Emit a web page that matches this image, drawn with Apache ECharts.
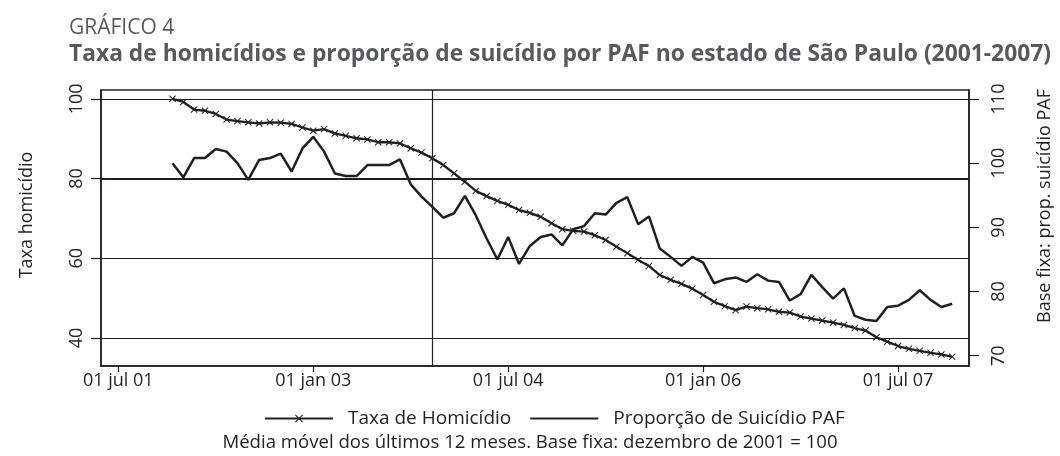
<!DOCTYPE html>
<html>
<head>
    <meta charset="UTF-8">
    <script src="https://cdn.jsdelivr.net/npm/echarts@6/dist/echarts.min.js"></script>
    <style>
        html, body { margin: 0; padding: 0; background: #fff; }
        #container { width: 1060px; height: 456px; }
    </style>
</head>
<body>
<div id="container"></div>
<script type="text/javascript">
    // meses contados a partir de jul/2001 (0 = jul 2001); série começa em dez/2001
    var inicioSerie = 5;
    var marcoDesarmamento = 29; // dez/2003
    var linhaReforcada = 80;

    var xTickValues = [0, 18, 36, 54, 72];
    var xTickLabels = ['01 jul 01', '01 jan 03', '01 jul 04', '01 jan 06', '01 jul 07'];
    var yLeftTicks = [40, 60, 80, 100];
    var yRightTicks = [70, 80, 90, 100, 110];

    // Taxa de homicídio (base dez/2001 = 100), dez/2001 .. dez/2007
    var taxaHomicidio = [
        100.0, 99.2, 97.3, 97.0, 96.2, 94.8, 94.4, 94.1, 93.8, 94.1, 94.0, 93.7,
        92.8, 92.0, 92.4, 91.3, 90.7, 90.1, 89.8, 89.1, 89.1, 88.8, 87.6, 86.5,
        85.1, 83.4, 81.3, 79.2, 76.9, 75.6, 74.4, 73.4, 72.1, 71.4, 70.4, 68.8,
        67.3, 66.9, 66.7, 65.8, 64.6, 62.9, 61.3, 59.6, 58.1, 55.8, 54.6, 53.6,
        52.4, 50.8, 49.1, 48.0, 47.0, 47.9, 47.5, 47.2, 46.6, 46.4, 45.4, 44.9,
        44.4, 43.9, 43.3, 42.5, 41.9, 40.2, 39.1, 38.0, 37.3, 36.8, 36.3, 35.9,
        35.3
    ];

    // Proporção de suicídio por PAF (base dez/2001 = 100), dez/2001 .. dez/2007
    var propSuicidio = [
        100.0, 97.8, 100.8, 100.8, 102.2, 101.8, 100.0, 97.4, 100.5, 100.8, 101.5, 98.7,
        102.3, 104.1, 101.8, 98.4, 98.0, 98.0, 99.7, 99.7, 99.7, 100.6, 96.7, 94.8,
        93.2, 91.5, 92.2, 94.9, 91.9, 88.3, 85.0, 88.5, 84.3, 87.1, 88.5, 88.9,
        87.2, 89.7, 90.2, 92.2, 92.0, 93.8, 94.7, 90.5, 91.7, 86.7, 85.4, 84.0,
        85.4, 84.5, 81.3, 81.9, 82.2, 81.5, 82.7, 81.7, 81.5, 78.6, 79.6, 82.6,
        80.7, 78.9, 80.5, 76.2, 75.6, 75.4, 77.6, 77.8, 78.7, 80.2, 78.7, 77.6,
        78.1
    ];

    function paraPontos(valores) {
        return valores.map(function (v, i) { return [inicioSerie + i, v]; });
    }

    var corTexto = '#231f20';
    var corTitulo = '#58595b';
    var fonte = '"Open Sans", "Noto Sans", sans-serif';
    var cruz = 'path://M0,1L1,0L5,4L9,0L10,1L6,5L10,9L9,10L5,6L1,10L0,9L4,5Z';

    var dom = document.getElementById('container');
    var myChart = echarts.init(dom, null, { renderer: 'canvas' });

    var option = {
        animation: false,
        backgroundColor: '#fff',
        textStyle: { fontFamily: fonte, color: corTexto },
        title: [
            {
                text: 'GRÁFICO 4',
                left: 64, top: 13,
                textStyle: { fontFamily: fonte, fontSize: 21, fontWeight: 'normal', color: corTitulo }
            },
            {
                text: 'Taxa de homicídios e proporção de suicídio por PAF no estado de São Paulo (2001-2007)',
                left: 64, top: 38,
                textStyle: { fontFamily: fonte, fontSize: 22.8, fontWeight: 'bold', color: corTitulo }
            },
            {
                text: 'Média móvel dos últimos 12 meses. Base fixa: dezembro de 2001 = 100',
                left: 'center', top: 428,
                textStyle: { fontFamily: fonte, fontSize: 18.6, fontWeight: 'normal', color: corTexto }
            }
        ],
        legend: {
            left: 259, top: 404,
            itemWidth: 68, itemHeight: 10, itemGap: 18,
            textStyle: { fontFamily: fonte, fontSize: 19, color: corTexto, padding: [0, 0, 0, 10] },
            data: [
                { name: 'Taxa de Homicídio' },
                { name: 'Proporção de Suicídio PAF', itemStyle: { opacity: 0 } }
            ]
        },
        grid: {
            left: 101, right: 91, top: 90, bottom: 90,
            outerBoundsMode: 'none',
            show: true, borderColor: corTexto, borderWidth: 1.5
        },
        xAxis: {
            type: 'value',
            min: -1.6, max: 78.55,
            axisLine: { show: true, onZero: false, lineStyle: { color: corTexto, width: 1.5 } },
            axisTick: { show: true, length: 6, customValues: xTickValues, lineStyle: { color: corTexto, width: 1.2 } },
            axisLabel: {
                customValues: xTickValues, margin: 6,
                fontSize: 18, color: corTexto, fontFamily: fonte,
                formatter: function (v) {
                    var i = xTickValues.indexOf(Math.round(v));
                    return i >= 0 ? xTickLabels[i] : '';
                }
            },
            splitLine: { show: false }
        },
        yAxis: [
            {
                type: 'value', position: 'left',
                min: 33.0, max: 102.2,
                name: 'Taxa homicídio', nameLocation: 'middle', nameGap: 65, nameRotate: 90,
                nameTextStyle: { fontFamily: fonte, fontSize: 18, color: corTexto, padding: [0, 0, 0, 26] },
                axisLine: { show: true, onZero: false, lineStyle: { color: corTexto, width: 1.5 } },
                axisTick: { show: true, length: 10, customValues: yLeftTicks, lineStyle: { color: corTexto, width: 1.2 } },
                axisLabel: { customValues: yLeftTicks, rotate: 90, margin: 15, fontSize: 18, color: corTexto, fontFamily: fonte },
                splitLine: { show: true, lineStyle: { color: corTexto, width: 1.2 } }
            },
            {
                type: 'value', position: 'right',
                min: 68.4, max: 111.4,
                name: 'Base fixa: prop. suicídio PAF', nameLocation: 'middle', nameGap: 67, nameRotate: 90,
                nameTextStyle: { fontFamily: fonte, fontSize: 18, color: corTexto, padding: [0, 0, 0, 44] },
                axisLine: { show: true, onZero: false, lineStyle: { color: corTexto, width: 1.5 } },
                axisTick: { show: true, length: 10, customValues: yRightTicks, lineStyle: { color: corTexto, width: 1.2 } },
                axisLabel: { customValues: yRightTicks, rotate: 90, margin: 21, fontSize: 18, color: corTexto, fontFamily: fonte },
                splitLine: { show: false }
            }
        ],
        series: [
            {
                name: 'Taxa de Homicídio',
                type: 'line',
                yAxisIndex: 0,
                data: paraPontos(taxaHomicidio),
                symbol: cruz, symbolSize: 7, showSymbol: true,
                lineStyle: { color: corTexto, width: 2.3 },
                itemStyle: { color: corTexto },
                markLine: {
                    silent: true, symbol: 'none', label: { show: false },
                    lineStyle: { color: corTexto, width: 1.2, type: 'solid' },
                    data: [
                        { xAxis: marcoDesarmamento },
                        { yAxis: linhaReforcada, lineStyle: { width: 2 } }
                    ]
                },
                z: 3
            },
            {
                name: 'Proporção de Suicídio PAF',
                type: 'line',
                yAxisIndex: 1,
                data: paraPontos(propSuicidio),
                symbol: 'none', showSymbol: false,
                lineStyle: { color: corTexto, width: 2.5 },
                itemStyle: { color: corTexto },
                z: 2
            }
        ]
    };

    myChart.setOption(option);
    window.addEventListener('resize', myChart.resize);
</script>
</body>
</html>
